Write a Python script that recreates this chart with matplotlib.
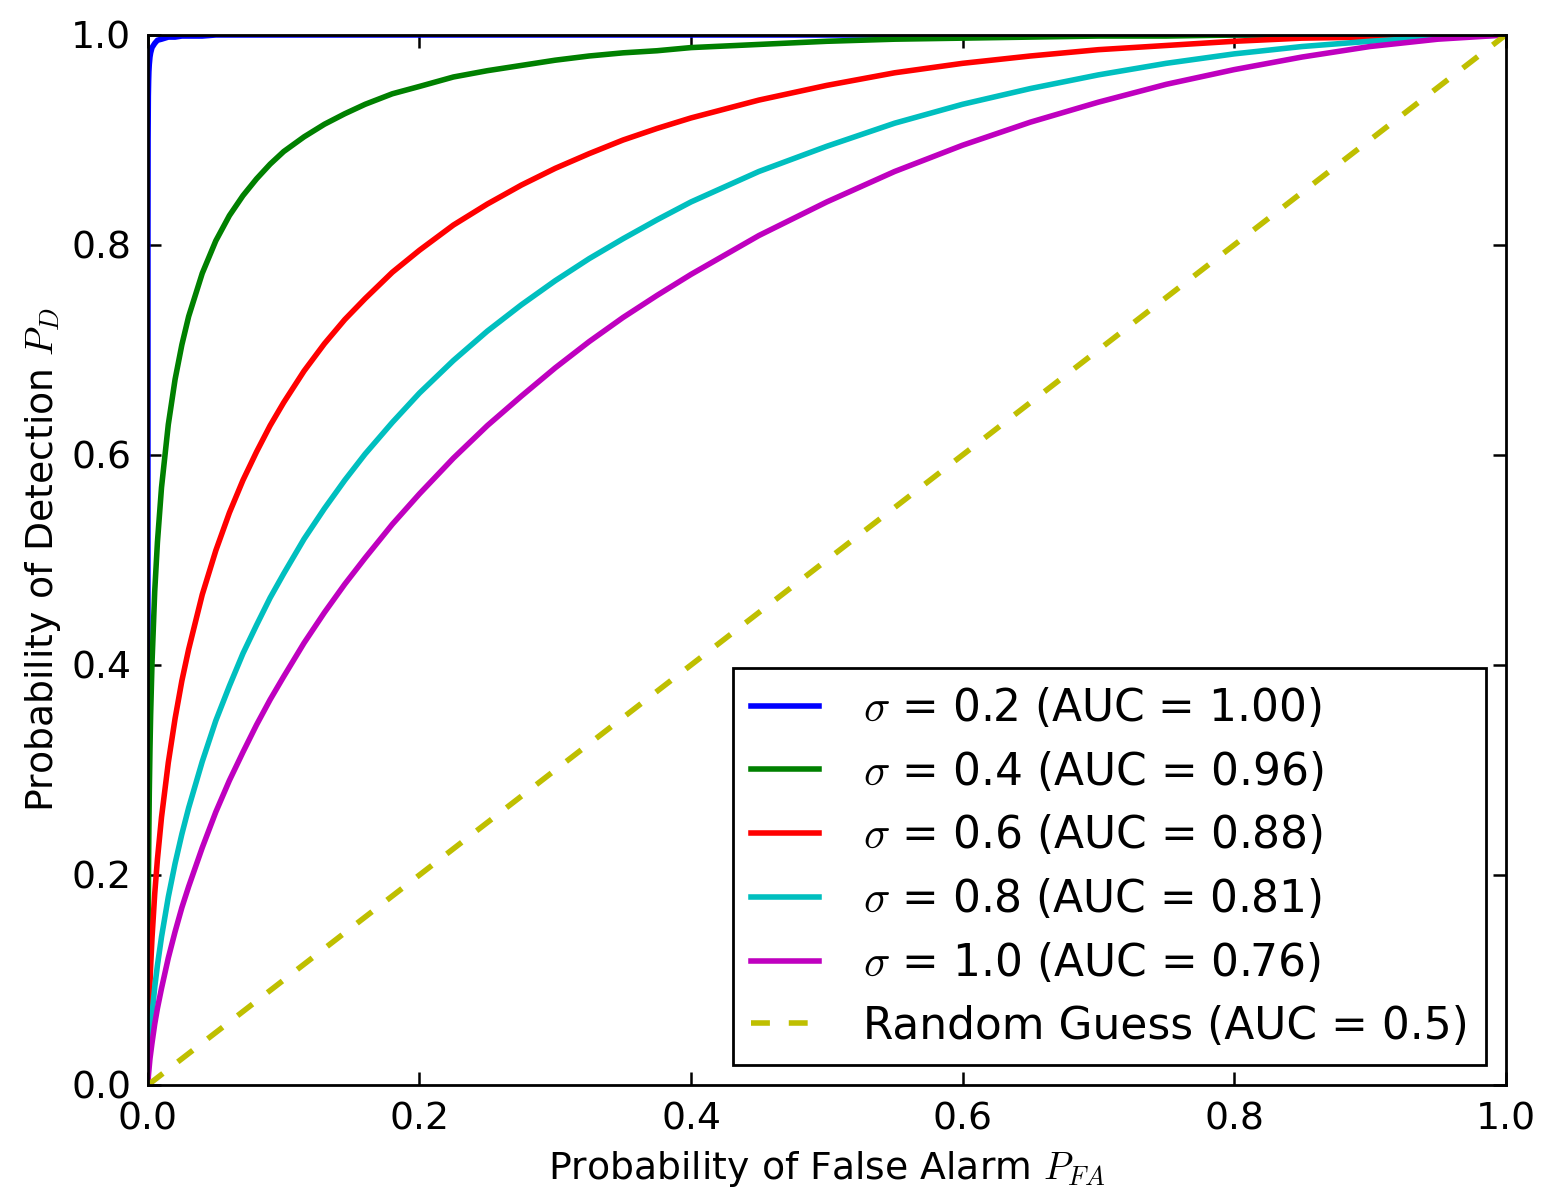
import matplotlib
matplotlib.use('Agg')
import matplotlib.pyplot as plt

plt.rcParams['mathtext.fontset'] = 'cm'
plt.rcParams['font.family'] = 'DejaVu Sans'

# false alarm rates
pfa = [0.0, 0.00002, 0.0001, 0.0003, 0.0005, 0.0007,
       0.001, 0.0015, 0.002, 0.003, 0.005, 0.007,
       0.01, 0.015, 0.02, 0.025, 0.03, 0.04,
       0.05, 0.06, 0.07, 0.08, 0.09, 0.1,
       0.115, 0.13, 0.145, 0.16, 0.18, 0.2,
       0.225, 0.25, 0.275, 0.3, 0.325, 0.35,
       0.375, 0.4, 0.45, 0.5, 0.55, 0.6,
       0.65, 0.7, 0.75, 0.8, 0.85, 0.9,
       0.95, 1.0]

pd_02 = [0.0, 0.814, 0.900, 0.942, 0.956, 0.965,
         0.972, 0.979, 0.983, 0.988, 0.992, 0.995,
         0.996, 0.998, 0.998, 0.999, 0.999, 0.999] + [1.0] * 32
pd_04 = [0.0, 0.054, 0.111, 0.176, 0.215, 0.244,
         0.278, 0.320, 0.353, 0.402, 0.470, 0.517,
         0.569, 0.629, 0.672, 0.705, 0.732, 0.773,
         0.804, 0.828, 0.847, 0.863, 0.877, 0.889,
         0.903, 0.915, 0.925, 0.934, 0.944, 0.951,
         0.960, 0.966, 0.971, 0.976, 0.980, 0.983,
         0.985, 0.988, 0.991, 0.994, 0.996, 0.997,
         0.998, 0.999, 0.999, 1.0, 1.0, 1.0,
         1.0, 1.0]
pd_06 = [0.0, 0.007, 0.020, 0.039, 0.052, 0.063,
         0.077, 0.097, 0.113, 0.140, 0.182, 0.215,
         0.255, 0.307, 0.349, 0.385, 0.415, 0.467,
         0.509, 0.545, 0.576, 0.603, 0.628, 0.650,
         0.680, 0.706, 0.729, 0.749, 0.774, 0.795,
         0.819, 0.839, 0.857, 0.873, 0.887, 0.900,
         0.911, 0.921, 0.938, 0.952, 0.964, 0.973,
         0.980, 0.986, 0.990, 0.994, 0.997, 0.998,
         0.9995, 1.0]
pd_08 = [0.0, 0.002, 0.007, 0.015, 0.021, 0.026,
         0.033, 0.043, 0.052, 0.067, 0.093, 0.114,
         0.141, 0.179, 0.211, 0.239, 0.264, 0.308,
         0.347, 0.380, 0.411, 0.438, 0.464, 0.487,
         0.520, 0.549, 0.576, 0.601, 0.631, 0.659,
         0.690, 0.718, 0.743, 0.766, 0.787, 0.806,
         0.824, 0.841, 0.870, 0.894, 0.916, 0.934,
         0.949, 0.962, 0.973, 0.982, 0.989, 0.994,
         0.998, 1.0]
pd_10 = [0.0, 0.001, 0.003, 0.008, 0.011, 0.014,
         0.018, 0.025, 0.030, 0.040, 0.058, 0.073,
         0.092, 0.121, 0.146, 0.169, 0.189, 0.226,
         0.260, 0.290, 0.317, 0.343, 0.367, 0.389,
         0.421, 0.450, 0.477, 0.502, 0.534, 0.563,
         0.597, 0.628, 0.656, 0.683, 0.708, 0.731,
         0.752, 0.772, 0.809, 0.841, 0.870, 0.895,
         0.917, 0.936, 0.953, 0.967, 0.979, 0.989,
         0.996, 1.0]

sigmas = [0.2, 0.4, 0.6, 0.8, 1.0]
aucs = ['1.00', '0.96', '0.88', '0.81', '0.76']
curves = [pd_02, pd_04, pd_06, pd_08, pd_10]
colors = [(0, 0, 1), (0, 0.5, 0), (1, 0, 0), (0, 0.75, 0.75), (0.75, 0, 0.75)]

guess_x = [0.0, 1.0]
guess_y = [0.0, 1.0]

fig = plt.figure(figsize=(1549 / 200.0, 1194 / 200.0), dpi=200)
ax = fig.add_axes([0.0955, 0.0913, 0.8765, 0.8794])

for s, a, c, col in zip(sigmas, aucs, curves, colors):
    ax.plot(pfa, c, color=col, lw=2.0,
            label=r'$\sigma$ = %.1f (AUC = %s)' % (s, a))
ax.plot(guess_x, guess_y, color=(0.75, 0.75, 0), lw=2.0,
        linestyle=(0, (3.4, 3.4)), label='Random Guess (AUC = 0.5)')

ax.set_xlim(0, 1)
ax.set_ylim(0, 1)
ax.set_xticks([0, 0.2, 0.4, 0.6, 0.8, 1.0])
ax.set_yticks([0, 0.2, 0.4, 0.6, 0.8, 1.0])
ax.tick_params(direction='in', length=4.7, width=0.9, top=True, right=True,
               labelsize=13.6, pad=6)
for sp in ax.spines.values():
    sp.set_linewidth(1.0)

ax.set_xlabel(r'Probability of False Alarm $P_{FA}$', fontsize=13.6, labelpad=4)
ax.set_ylabel(r'Probability of Detection $P_D$', fontsize=13.6, labelpad=3)

leg = ax.legend(loc='lower right', fontsize=15.8, fancybox=False,
                handlelength=1.55, handletextpad=1.0, labelspacing=0.45,
                borderaxespad=0.45, framealpha=1.0)
leg.get_frame().set_edgecolor('black')
leg.get_frame().set_linewidth(1.0)

plt.savefig('out.png', dpi=200)
